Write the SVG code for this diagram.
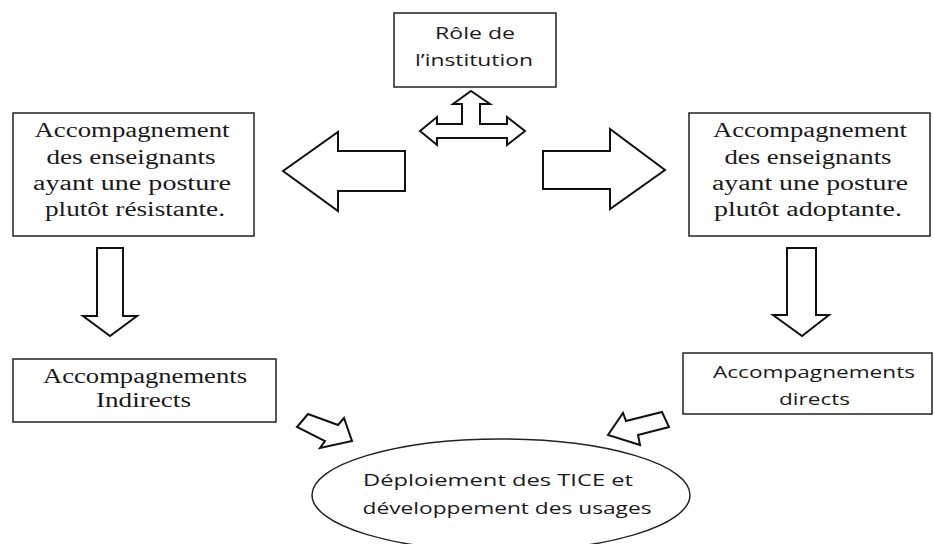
<svg xmlns="http://www.w3.org/2000/svg" width="934" height="544" viewBox="0 0 934 544">
<style>
.box{fill:#fff;stroke:#222;stroke-width:1.5}
.arr{fill:#fff;stroke:#111;stroke-width:2;stroke-linejoin:miter}
.serif{font-family:"Liberation Serif","Times New Roman",serif;font-size:20px;fill:#1a1a1a;text-anchor:middle}
.sans{font-family:"Open Sans","Noto Sans","DejaVu Sans",sans-serif;font-size:17px;fill:#1a1a1a;text-anchor:middle}
</style>
<rect width="934" height="544" fill="#fff"/>
<g id="connectors">
<polygon class="arr" points="471,91 490,104 480,104 480,124 507,124 507,117 525,131 507,145 507,138 437,138 437,145 420,131 437,117 437,124 462,124 462,104 453,104"/>
<polygon class="arr" points="283,171 338,132 338,151 405,151 405,191 338,191 338,211"/>
<polygon class="arr" points="543,151 610,151 610,129 665,170 610,209 610,189 543,189"/>
<polygon class="arr" points="97,248 123,248 123,316 137,316 110,336 83,316 97,316"/>
<polygon class="arr" points="787,248 816,248 816,315 829,315 802,336 773,315 787,315"/>
<polygon class="arr" points="308,414 338,425 344,418 352,441 320,448 325,441 297,427"/>
<polygon class="arr" points="662,412 669,427 638,435 640,445 608,435 623,413 626,421"/>
</g>
<g id="role">
<rect class="box" x="394" y="13" width="162" height="74"/>
<text class="sans" x="475" y="39" textLength="80" lengthAdjust="spacingAndGlyphs">Rôle de</text>
<text class="sans" x="474" y="66" textLength="118" lengthAdjust="spacingAndGlyphs">l’institution</text>
</g>
<g id="resistante">
<rect class="box" x="13" y="113" width="241" height="123"/>
<text class="serif" x="132" y="137" textLength="195" lengthAdjust="spacingAndGlyphs">Accompagnement</text>
<text class="serif" x="131" y="164" textLength="169" lengthAdjust="spacingAndGlyphs">des enseignants</text>
<text class="serif" x="132" y="190" textLength="198" lengthAdjust="spacingAndGlyphs">ayant une posture</text>
<text class="serif" x="135" y="216" textLength="180" lengthAdjust="spacingAndGlyphs">plutôt résistante.</text>
</g>
<g id="adoptante">
<rect class="box" x="689" y="113" width="241" height="123"/>
<text class="serif" x="810" y="137" textLength="194" lengthAdjust="spacingAndGlyphs">Accompagnement</text>
<text class="serif" x="808" y="164" textLength="167" lengthAdjust="spacingAndGlyphs">des enseignants</text>
<text class="serif" x="810" y="190" textLength="196" lengthAdjust="spacingAndGlyphs">ayant une posture</text>
<text class="serif" x="808" y="216" textLength="188" lengthAdjust="spacingAndGlyphs">plutôt adoptante.</text>
</g>
<g id="indirects">
<rect class="box" x="13" y="359" width="263" height="63"/>
<text class="serif" x="145" y="383" textLength="204" lengthAdjust="spacingAndGlyphs">Accompagnements</text>
<text class="serif" x="143.5" y="407" textLength="95" lengthAdjust="spacingAndGlyphs">Indirects</text>
</g>
<g id="directs">
<rect class="box" x="683" y="353" width="249" height="61"/>
<text class="sans" x="814" y="378" font-size="18" textLength="202" lengthAdjust="spacingAndGlyphs">Accompagnements</text>
<text class="sans" x="814.5" y="405" font-size="18" textLength="71" lengthAdjust="spacingAndGlyphs">directs</text>
</g>
<g id="deploiement">
<ellipse class="box" cx="501" cy="495" rx="189" ry="56" stroke-width="2"/>
<text class="sans" x="498" y="486" font-size="18" textLength="270" lengthAdjust="spacingAndGlyphs">Déploiement des TICE et</text>
<text class="sans" x="507" y="514" font-size="18" textLength="289" lengthAdjust="spacingAndGlyphs">développement des usages</text>
</g>
</svg>
